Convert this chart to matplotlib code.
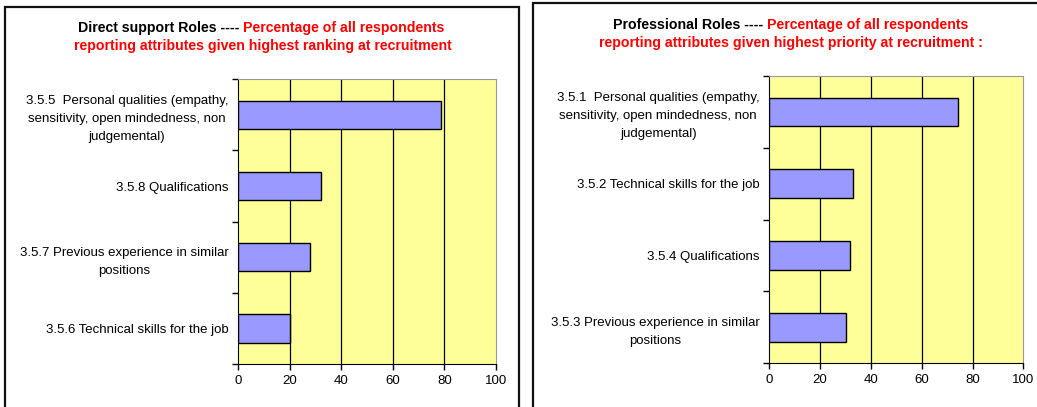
import numpy as np
import matplotlib.pyplot as plt
from matplotlib.patches import Rectangle

plt.rcParams['font.family'] = ['Liberation Sans', 'DejaVu Sans']

# Direct support roles (top to bottom)
ds_labels = ['3.5.5  Personal qualities (empathy,\nsensitivity, open mindedness, non\njudgemental)',
             '3.5.8 Qualifications',
             '3.5.7 Previous experience in similar\npositions',
             '3.5.6 Technical skills for the job']
ds_values = [78.7, 32.2, 27.9, 20.3]

# Professional roles (top to bottom)
pr_labels = ['3.5.1  Personal qualities (empathy,\nsensitivity, open mindedness, non\njudgemental)',
             '3.5.2 Technical skills for the job',
             '3.5.4 Qualifications',
             '3.5.3 Previous experience in similar\npositions']
pr_values = [74.2, 32.8, 31.8, 30.3]

x_ticks = [0, 20, 40, 60, 80, 100]

W, H = 1037, 407
fig = plt.figure(figsize=(W / 100, H / 100), dpi=100)


def px(x0, y0, x1, y1):
    return [x0 / W, 1 - y1 / H, (x1 - x0) / W, (y1 - y0) / H]


def draw_panel(rect, labels, values):
    ax = fig.add_axes(rect)
    ax.set_facecolor('#FFFF99')
    n = len(values)
    pos = np.arange(n)[::-1] + 0.5
    ax.barh(pos, values, height=0.4, color='#9999FF', edgecolor='black', linewidth=1, zorder=3)
    ax.set_xlim(0, 100)
    ax.set_ylim(0, n)
    ax.set_xticks(x_ticks)
    ax.set_xticklabels([str(t) for t in x_ticks], fontsize=9.5)
    ax.set_yticks(np.arange(n + 1))
    ax.set_yticklabels([])
    ax.set_yticks(pos, minor=True)
    ax.set_yticklabels(labels, minor=True, fontsize=9.5, multialignment='center', linespacing=1.65)
    ax.tick_params(axis='y', which='minor', length=0, pad=7)
    ax.tick_params(axis='both', which='major', length=4, direction='out', width=1)
    ax.tick_params(axis='x', pad=4)
    for t in ax.get_xticks()[1:-1]:
        ax.axvline(t, color='black', linewidth=0.9, zorder=1)
    ax.spines['top'].set_color('#999999')
    ax.spines['right'].set_color('#999999')
    ax.spines['left'].set_color('black')
    ax.spines['bottom'].set_color('black')
    return ax


draw_panel(px(238, 79.3, 496, 364), ds_labels, ds_values)
draw_panel(px(769.3, 76, 1023.3, 363.3), pr_labels, pr_values)

# panel frames
fig.patches.append(Rectangle((5 / W, -0.05), (519 - 5) / W, 1.05 - 7 / H, transform=fig.transFigure,
                             fill=False, edgecolor='#111111', linewidth=1.6))
fig.patches.append(Rectangle((533 / W, -0.05), 0.6, 1.05 - 3 / H, transform=fig.transFigure,
                             fill=False, edgecolor='#111111', linewidth=1.6))

# titles
tkw = dict(fontsize=10.2, fontweight='bold', va='center')
fig.text(243 / W, 1 - 28 / H, 'Direct support Roles ---- ', ha='right', color='black', **tkw)
fig.text(243 / W, 1 - 28 / H, 'Percentage of all respondents', ha='left', color='red', **tkw)
fig.text(263 / W, 1 - 46 / H, 'reporting attributes given highest ranking at recruitment', ha='center', color='red', **tkw)

fig.text(767 / W, 1 - 25 / H, 'Professional Roles ---- ', ha='right', color='black', **tkw)
fig.text(767 / W, 1 - 25 / H, 'Percentage of all respondents', ha='left', color='red', **tkw)
fig.text(791 / W, 1 - 43 / H, 'reporting attributes given highest priority at recruitment :', ha='center', color='red', **tkw)

fig.savefig('out.png', dpi=100)
